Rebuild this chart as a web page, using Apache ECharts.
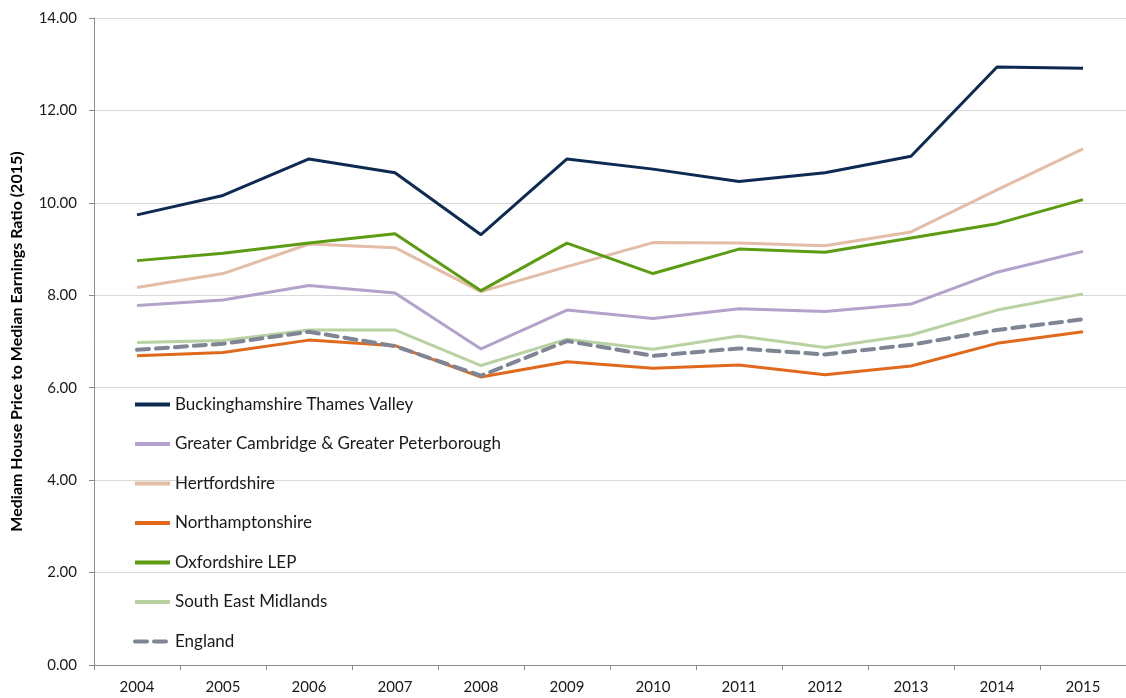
<!DOCTYPE html>
<html>
<head>
<meta charset="utf-8">
<script src="https://cdn.jsdelivr.net/npm/echarts@6/dist/echarts.min.js"></script>
<style>
html, body { margin: 0; padding: 0; background: #fff; }
#chart { width: 1126px; height: 698px; }
</style>
</head>
<body>
<div id="chart"></div>
<script>
// 年份
var years = ['2004','2005','2006','2007','2008','2009','2010','2011','2012','2013','2014','2015'];

// 各地区数据
var bucks       = [9.74, 10.16, 10.95, 10.65, 9.31, 10.95, 10.73, 10.46, 10.65, 11.01, 12.94, 12.91];
var cambridge   = [7.78, 7.90, 8.21, 8.05, 6.84, 7.68, 7.50, 7.71, 7.65, 7.81, 8.50, 8.95];
var herts       = [8.17, 8.47, 9.11, 9.03, 8.08, 8.62, 9.14, 9.13, 9.07, 9.37, 10.28, 11.17];
var northants   = [6.69, 6.76, 7.03, 6.91, 6.23, 6.56, 6.42, 6.49, 6.28, 6.47, 6.96, 7.21];
var oxford      = [8.75, 8.91, 9.13, 9.33, 8.10, 9.13, 8.47, 9.00, 8.93, 9.24, 9.55, 10.07];
var seMidlands  = [6.98, 7.02, 7.25, 7.25, 6.48, 7.05, 6.83, 7.12, 6.87, 7.14, 7.68, 8.03];
var england     = [6.82, 6.95, 7.21, 6.90, 6.26, 7.01, 6.69, 6.85, 6.72, 6.93, 7.25, 7.48];

var font = 'Lato, "Open Sans", sans-serif';

var mk = function(name, data, color, dashed) {
	return {
		name: name,
		type: 'line',
		data: data,
		symbol: 'none',
		smooth: false,
		lineStyle: {
			color: color,
			width: dashed ? 4 : 3,
			type: dashed ? [12, 7] : 'solid',
			cap: dashed ? 'round' : 'butt'
		},
		itemStyle: { color: color }
	};
};

var myChart = echarts.init(document.getElementById('chart'));
var option = {
	animation: false,
	grid: { left: 94, right: 0, top: 18, bottom: 33, outerBoundsMode: 'none' },
	legend: {
		orient: 'vertical',
		left: 128,
		top: 391,
		itemWidth: 35,
		itemHeight: 14,
		itemGap: 22.5,
		itemStyle: { opacity: 0 },
		lineStyle: { width: 4 },
		textStyle: { fontFamily: font, fontSize: 17, color: '#1a1a1a' },
		data: ['Buckinghamshire Thames Valley', 'Greater Cambridge & Greater Peterborough', 'Hertfordshire',
			'Northamptonshire', 'Oxfordshire LEP', 'South East Midlands', 'England']
	},
	xAxis: {
		type: 'category',
		data: years,
		boundaryGap: true,
		axisLine: { lineStyle: { color: '#8c8c8c', width: 1 } },
		axisTick: { show: true, length: 5, lineStyle: { color: '#8c8c8c' } },
		axisLabel: { fontFamily: font, fontSize: 15, color: '#1a1a1a', margin: 15 }
	},
	yAxis: {
		type: 'value',
		min: 0,
		max: 14,
		interval: 2,
		name: 'Mediam House Price to Median Earnings Ratio (2015)',
		nameLocation: 'middle',
		nameGap: 69,
		nameTextStyle: { fontFamily: font, fontSize: 16, fontWeight: 'bold', color: '#000' },
		axisLine: { show: true, lineStyle: { color: '#8c8c8c' } },
		axisTick: { show: true, length: 5, lineStyle: { color: '#8c8c8c' } },
		axisLabel: {
			fontFamily: font, fontSize: 15, color: '#1a1a1a', margin: 17,
			formatter: function (v) { return v.toFixed(2); }
		},
		splitLine: { lineStyle: { color: '#d9d9d9', width: 1 } }
	},
	series: [
		mk('Buckinghamshire Thames Valley', bucks, '#0d2b52'),
		mk('Greater Cambridge & Greater Peterborough', cambridge, '#b3a2cc'),
		mk('Hertfordshire', herts, '#e3bda5'),
		mk('Northamptonshire', northants, '#e0691c'),
		mk('Oxfordshire LEP', oxford, '#5c9c12'),
		mk('South East Midlands', seMidlands, '#b8d2a2'),
		mk('England', england, '#7f8594', true)
	]
};
myChart.setOption(option);
</script>
</body>
</html>
